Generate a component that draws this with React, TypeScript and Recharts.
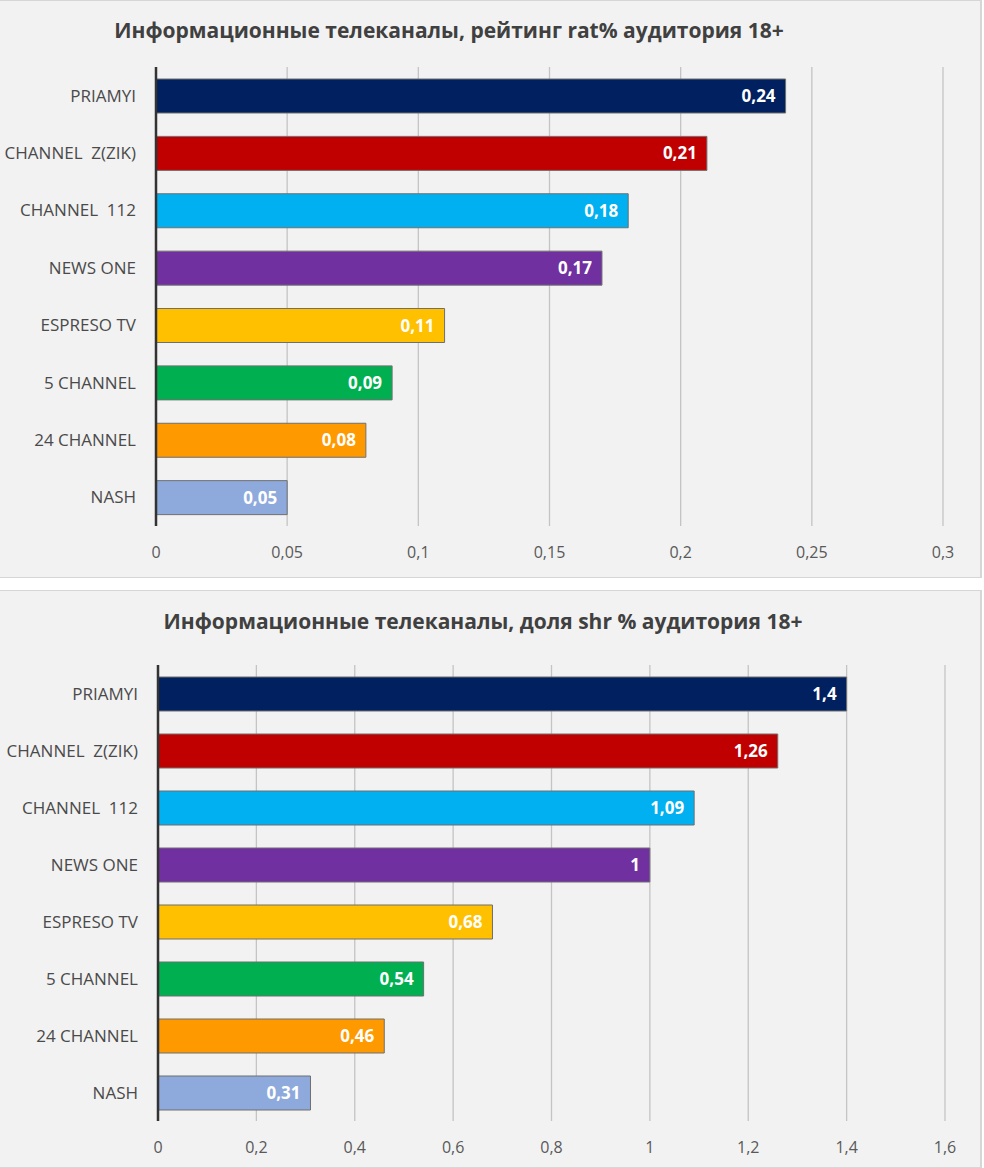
import React from 'react';
import { BarChart, Bar, XAxis, YAxis, CartesianGrid, Cell, LabelList } from 'recharts';

const channels = [
  'PRIAMYI',
  'CHANNEL  Z(ZIK)',
  'CHANNEL  112',
  'NEWS ONE',
  'ESPRESO TV',
  '5 CHANNEL',
  '24 CHANNEL',
  'NASH',
];
const colors = ['#002060', '#C00000', '#00B0F0', '#7030A0', '#FFC000', '#00B050', '#FF9900', '#8EA9DB'];

const ratingValues = [0.24, 0.21, 0.18, 0.17, 0.11, 0.09, 0.08, 0.05];
const shareValues = [1.4, 1.26, 1.09, 1, 0.68, 0.54, 0.46, 0.31];

const ratingTicks = [0, 0.05, 0.1, 0.15, 0.2, 0.25, 0.3];
const shareTicks = [0, 0.2, 0.4, 0.6, 0.8, 1, 1.2, 1.4, 1.6];

const FONT = '"Open Sans", "Noto Sans", sans-serif';
const comma = (v: number) => String(v).replace('.', ',');

const CategoryTick = (props: any) => {
  const { x, y, payload } = props;
  return (
    <text
      x={x}
      y={y}
      dy={6}
      textAnchor="end"
      fill="#4a4a4a"
      fontSize={17}
      fontFamily={FONT}
      style={{ whiteSpace: 'pre' }}
    >
      {payload.value}
    </text>
  );
};

interface PanelProps {
  title: string;
  values: number[];
  ticks: number[];
  yAxisWidth: number;
  rightMargin: number;
  topMargin: number;
  axisHeight: number;
  titleX: number;
  titleY: number;
}

const Panel: React.FC<PanelProps> = ({ title, values, ticks, yAxisWidth, rightMargin, topMargin, axisHeight, titleX, titleY }) => {
  const data = channels.map((name, i) => ({ name, value: values[i] }));
  return (
    <div style={{ position: 'relative', width: 982, height: 578, background: '#f2f2f2', borderTop: '1px solid #d6d6d6', borderRight: '2px solid #d6d6d6', borderBottom: '1px solid #d6d6d6', boxSizing: 'border-box' }}>
      <BarChart
        width={980}
        height={576}
        layout="vertical"
        data={data}
        margin={{ top: topMargin, right: rightMargin, bottom: 0, left: 0 }}
      >
        <text
          x={titleX}
          y={titleY}
          textAnchor="middle"
          fontSize={21}
          fontWeight="bold"
          fill="#404040"
          fontFamily={FONT}
        >
          {title}
        </text>
        <CartesianGrid horizontal={false} stroke="#c4c4c4" strokeWidth={1.3} />
        <XAxis
          type="number"
          domain={[ticks[0], ticks[ticks.length - 1]]}
          ticks={ticks}
          tickFormatter={comma}
          axisLine={false}
          tickLine={false}
          tickMargin={15}
          height={axisHeight}
          tick={{ fill: '#595959', fontSize: 16, fontFamily: FONT }}
          interval={0}
        />
        <YAxis
          type="category"
          dataKey="name"
          width={yAxisWidth}
          axisLine={{ stroke: '#333333', strokeWidth: 2.5 }}
          tickLine={false}
          tickMargin={14}
          tick={<CategoryTick />}
          interval={0}
        />
        <Bar dataKey="value" barSize={34} stroke="#6f6f6f" strokeWidth={1} isAnimationActive={false}>
          {data.map((d, i) => (
            <Cell key={d.name} fill={colors[i]} />
          ))}
          <LabelList
            dataKey="value"
            position="insideRight"
            offset={10}
            formatter={(v: any) => comma(Number(v))}
            fill="#ffffff"
            fontSize={17}
            fontWeight="bold"
            fontFamily={FONT}
          />
        </Bar>
      </BarChart>
    </div>
  );
};

export default function App() {
  return (
    <div style={{ position: 'absolute', left: 0, top: 0, width: 984, height: 1168, background: '#ffffff' }}>
      <Panel
        title="Информационные телеканалы, рейтинг rat% аудитория 18+"
        values={ratingValues}
        ticks={ratingTicks}
        yAxisWidth={156}
        rightMargin={37}
        topMargin={66}
        axisHeight={51}
        titleX={449}
        titleY={37}
      />
      <div style={{ height: 12 }} />
      <Panel
        title="Информационные телеканалы, доля shr % аудитория 18+"
        values={shareValues}
        ticks={shareTicks}
        yAxisWidth={158}
        rightMargin={35}
        topMargin={74}
        axisHeight={46}
        titleX={483}
        titleY={38}
      />
    </div>
  );
}
